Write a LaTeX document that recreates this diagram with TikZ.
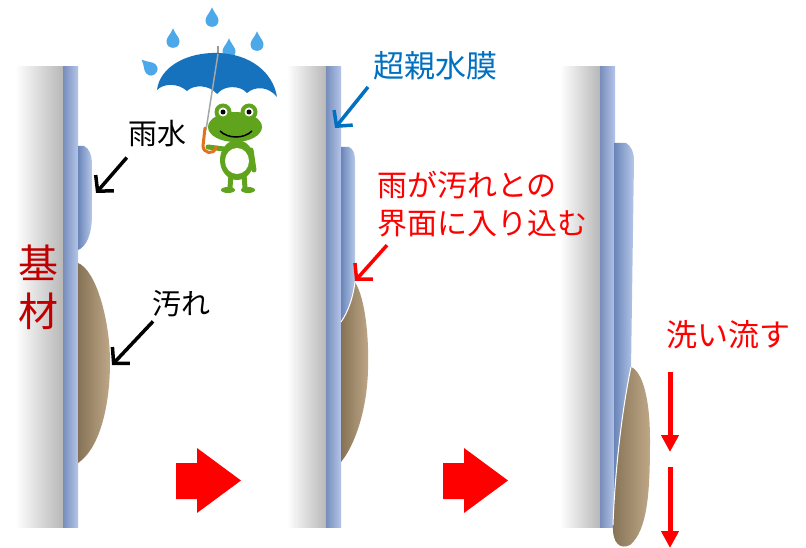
\documentclass[tikz,border=0pt]{standalone}
\usepackage{fontspec}
\newfontfamily\jpfont{Noto Sans CJK JP}
\usetikzlibrary{arrows.meta}
\definecolor{filmblue}{RGB}{140,166,220}
\definecolor{waterblue}{RGB}{124,156,216}
\definecolor{dirtbrown}{RGB}{178,152,114}
\definecolor{labelblue}{RGB}{0,112,192}
\definecolor{labelred}{RGB}{255,0,0}
\definecolor{darkred}{RGB}{192,0,0}
\definecolor{frog}{RGB}{96,164,30}
\definecolor{umbrella}{RGB}{22,114,188}
\definecolor{rain}{RGB}{76,168,232}
\definecolor{handle}{RGB}{226,114,30}
\tikzset{
    caption/.style={
        font=\jpfont\fontsize{29}{37}\selectfont,
        inner sep=0pt
    },
    pointer/.style={
        line width=3.5pt,
        -{Straight Barb[length=11pt, width=24pt]}
    },
    flow/.style={
        labelred,
        line width=5pt,
        -{Triangle[length=17pt, width=17pt]}
    },
    water/.style={
        left color=waterblue!85!black,
        right color=waterblue!55!white
    },
    dirt/.style={
        left color=dirtbrown!75!black,
        right color=dirtbrown!85!white
    },
    interface/.style={
        white,
        line width=1pt
    }
}
\newcommand{\substrate}[2]{
    \shade [left color=white, right color=black!28] (#1, 67) rectangle (#2, 527);
    \shade [left color=filmblue!85!black, right color=filmblue!65!white]
        (#2, 67) rectangle ({#2 + 15}, 527);
}
\newcommand{\stagearrow}[1]{
    \fill [labelred]
        (#1, 463) -- ({#1 + 21}, 463) -- ({#1 + 21}, 448) --
        ({#1 + 65}, 480.5) --
        ({#1 + 21}, 513) -- ({#1 + 21}, 499) -- (#1, 499) -- cycle;
}
\newcommand{\raindrop}[3]{
    \fill [rain, shift={(#1, #2)}, rotate=#3, scale=1.3]
        (0, -9) .. controls (2, -4) and (5, -2) .. (5, 1)
        .. controls (5, 4.5) and (2.5, 6) .. (0, 6)
        .. controls (-2.5, 6) and (-5, 4.5) .. (-5, 1)
        .. controls (-5, -2) and (-2, -4) .. cycle;
}

\begin{document}
\begin{tikzpicture}[x=1pt, y=-1pt]
    \useasboundingbox (0, 0) rectangle (806, 548);
    \fill [white] (0, 0) rectangle (806, 548);

    \substrate{15}{63}
    \substrate{287}{326}
    \substrate{560}{600}

    % first stage: droplet above the dirt
    \shade [water]
        (78, 146) -- (84, 146) .. controls (89, 148) and (92, 155) .. (92, 165)
        -- (92, 215) .. controls (92, 235) and (86, 247) .. (78, 250) -- cycle;
    \shade [dirt]
        (78, 263) .. controls (96, 270) and (110, 320) .. (110, 362)
        .. controls (110, 410) and (98, 450) .. (78, 463) -- cycle;

    % second stage: water creeps under the dirt
    \shade [water]
        (341, 147) -- (349, 147) .. controls (353, 149) and (355, 153) .. (355, 160)
        -- (355, 282) .. controls (353, 298) and (348, 312) .. (341, 322) -- cycle;
    \shade [dirt]
        (355, 282) .. controls (366, 300) and (369, 340) .. (368, 370)
        .. controls (367, 410) and (355, 445) .. (341, 462)
        -- (341, 322) .. controls (348, 312) and (353, 298) .. cycle;
    \draw [interface] (355, 282) .. controls (353, 298) and (348, 312) .. (341, 322);

    % third stage: dirt lifted and carried down
    \shade [water]
        (614, 143) -- (626, 143) .. controls (631, 146) and (634, 152) .. (634, 160)
        -- (631, 370) -- (614, 500) -- cycle;
    \shade [dirt]
        (631, 367) .. controls (643, 372) and (650, 400) .. (650, 440)
        .. controls (650, 490) and (648, 530) .. (630, 545)
        .. controls (620, 550) and (612, 543) .. (613, 525)
        .. controls (615, 470) and (622, 410) .. cycle;
    \draw [interface] (631, 367) .. controls (622, 410) and (615, 470) .. (613, 525);

    \stagearrow{176}
    \stagearrow{443}

    % frog under the umbrella
    \raindrop{212}{19}{0}
    \raindrop{173}{40}{0}
    \raindrop{257}{43}{0}
    \raindrop{229}{50}{0}
    \raindrop{150}{68}{45}
    \draw [black!40, line width=1.5pt] (218, 46) -- (218, 54);
    \fill [umbrella]
        (157, 90) .. controls (160, 66) and (188, 52) .. (218, 53)
        .. controls (250, 54) and (273, 72) .. (277, 97)
        .. controls (268, 86) and (255, 86) .. (247, 93)
        .. controls (240, 85) and (224, 85) .. (217, 94)
        .. controls (210, 85) and (194, 84) .. (187, 91)
        .. controls (178, 83) and (164, 83) .. cycle;
    \draw [black!35, line width=1.5pt] (218, 54) -- (206, 130);
    \draw [frog, line width=5pt, line cap=round] (231, 174) -- (230, 188);
    \draw [frog, line width=5pt, line cap=round] (244, 174) -- (245, 188);
    \fill [frog] (228, 190) ellipse [x radius=7, y radius=3];
    \fill [frog] (248, 190) ellipse [x radius=7, y radius=3];
    \fill [frog] (237, 160) ellipse [x radius=17, y radius=20];
    \fill [white] (237, 161) ellipse [x radius=12, y radius=13];
    \draw [frog, line width=5pt, line cap=round] (224, 149) -- (208, 147);
    \draw [frog, line width=5pt, line cap=round] (251, 150) -- (254, 170);
    \draw [handle, line width=3pt, line cap=round]
        (205, 128) -- (203, 146) .. controls (203, 153) and (214, 156) .. (216, 147);
    \fill [frog] (235, 127) ellipse [x radius=27, y radius=15];
    \foreach \ex in {223, 249} {
        \fill [frog] (\ex, 112) circle [radius=8.5];
        \fill [white] (\ex, 112) circle [radius=4.5];
        \fill [black] (\ex, 112) circle [radius=2.5];
    }
    \draw [black, line width=1.5pt]
        (220, 131) .. controls (228, 139) and (244, 139) .. (252, 131);

    % labels
    \node [caption, font=\jpfont\fontsize{40}{48}\selectfont, darkred, align=center]
        (base) at (39, 287) {基\\材};
    \node [caption] (rainwater) at (157, 134) {雨水};
    \coordinate (droplet) at (96, 193);
    \draw [pointer] ([xshift=-1pt, yshift=-10pt]rainwater.south west) -- (droplet);
    \node [caption] (soil) at (181, 304) {汚れ};
    \coordinate (soilface) at (112, 365);
    \draw [pointer] ([xshift=-28pt, yshift=-4pt]soil.south) -- (soilface);

    \node [caption, font=\jpfont\fontsize{31}{37}\selectfont, labelblue]
        (coating) at (435, 66) {超親水膜};
    \coordinate (coatingface) at (335, 128);
    \draw [pointer, labelblue] (368, 87) -- (coatingface);

    \node [caption, font=\jpfont\fontsize{30}{38}\selectfont, labelred,
        align=left, anchor=west] (creep) at (377, 204) {雨が汚れとの\\界面に入り込む};
    \coordinate (creepface) at (355, 281);
    \draw [pointer, labelred] ([xshift=10pt, yshift=-8pt]creep.south west) -- (creepface);

    \node [caption, font=\jpfont\fontsize{31}{37}\selectfont, labelred]
        (wash) at (728, 335) {洗い流す};
    \coordinate (washtop) at (670, 372);
    \coordinate (washmid) at (670, 452);
    \coordinate (washlow) at (670, 467);
    \coordinate (washend) at (670, 548);
    \draw [flow] (washtop) -- (washmid);
    \draw [flow] (washlow) -- (washend);
\end{tikzpicture}
\end{document}
